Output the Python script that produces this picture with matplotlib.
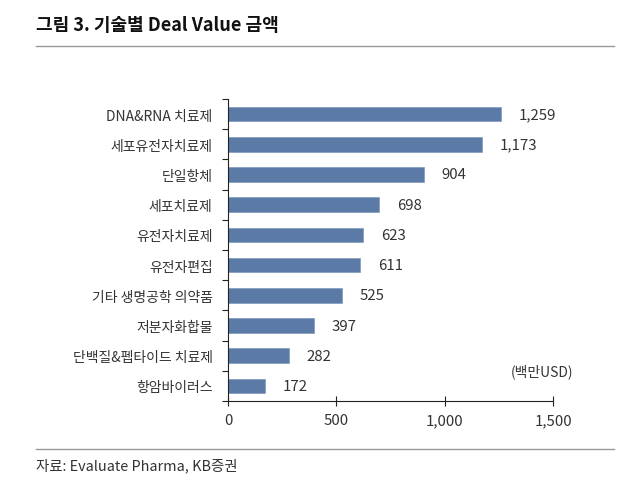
import matplotlib
matplotlib.use("Agg")
import matplotlib.pyplot as plt
import numpy as np

plt.rcParams['font.family'] = ['Noto Sans CJK KR', 'DejaVu Sans']

# data (million USD)
categories = ["DNA&RNA 치료제", "세포유전자치료제", "단일항체", "세포치료제", "유전자치료제",
              "유전자편집", "기타 생명공학 의약품", "저분자화합물", "단백질&펩타이드 치료제", "항암바이러스"]
values = [1259, 1173, 904, 698, 623, 611, 525, 397, 282, 172]
xticks = [0, 500, 1000, 1500]

bar_color = "#5b7ba6"
text_color = "#333333"

fig = plt.figure(figsize=(6.28, 4.81), dpi=100)
ax = fig.add_axes([0.363, 0.1642, 0.5176, 0.628])

y = np.arange(len(categories))
ax.barh(y, values, height=0.48, color=bar_color, edgecolor="#7f9cc0", linewidth=0.5)
ax.set_ylim(len(categories) - 0.5, -0.5)
ax.set_xlim(0, 1500)

# value labels
for yi, v in zip(y, values):
    ax.text(v + 82, yi, "{:,}".format(v), va="center", ha="left", fontsize=10.8, color=text_color)

# y axis: labels at bars, ticks between categories
ax.set_yticks(y)
ax.set_yticklabels(categories, fontsize=10, color=text_color)
ax.tick_params(axis="y", which="major", length=0, pad=11)
ax.set_yticks(np.arange(-0.5, len(categories)), minor=True)
ax.tick_params(axis="y", which="minor", length=4, width=0.8, color="#222222", direction="out")

ax.set_xticks(xticks)
ax.set_xticklabels(["{:,}".format(t) for t in xticks], fontsize=10.8, color=text_color)
ax.tick_params(axis="x", length=7, width=0.8, direction="inout", color="#222222", pad=5)

for s in ["top", "right"]:
    ax.spines[s].set_visible(False)
ax.spines["left"].set_color("#222222")
ax.spines["bottom"].set_color("#222222")
ax.spines["left"].set_linewidth(0.8)
ax.spines["bottom"].set_linewidth(0.8)

ax.text(1449, 8.5, "(백만USD)", fontsize=10, color=text_color, ha="center", va="center")

# title, rules and source
fig.text(0.058, 0.947, "그림 3. 기술별 Deal Value 금액", fontsize=13, fontweight="bold",
         color="#111111", va="center", ha="left")
fig.add_artist(plt.Line2D([0.058, 0.978], [0.902, 0.902], color="#999999", linewidth=1))
fig.add_artist(plt.Line2D([0.058, 0.978], [0.064, 0.064], color="#999999", linewidth=1))
fig.text(0.058, 0.031, "자료: Evaluate Pharma, KB증권", fontsize=10.4, color=text_color, va="center", ha="left")

fig.savefig("out.png", dpi=100)
